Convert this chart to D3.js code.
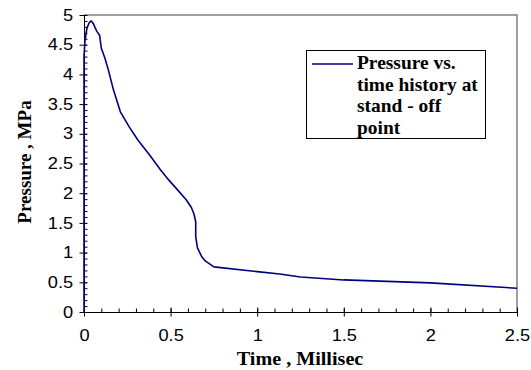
<!DOCTYPE html>
<html>
<head>
<meta charset="utf-8">
<script src="https://cdn.jsdelivr.net/npm/d3@7"></script>
<style>
  body { margin: 0; background: #fff; }
  svg { display: block; }
  .serif { font-family: "Liberation Serif", "Times New Roman", serif; font-weight: bold; }
</style>
</head>
<body>
<div id="container"></div>
<script>
// values
const timeMs = [0, 0, 0.005, 0.017, 0.03, 0.042, 0.055, 0.065, 0.075, 0.09, 0.1, 0.12, 0.14, 0.17, 0.21, 0.26, 0.31, 0.38, 0.44, 0.49, 0.53, 0.59, 0.62, 0.635, 0.645, 0.645, 0.655, 0.68, 0.70, 0.75, 1.0, 1.13, 1.25, 1.5, 2.0, 2.5];
const pressureMPa = [0, 4.3, 4.55, 4.78, 4.87, 4.9, 4.85, 4.78, 4.72, 4.66, 4.44, 4.28, 4.08, 3.74, 3.37, 3.12, 2.9, 2.64, 2.4, 2.22, 2.09, 1.89, 1.76, 1.65, 1.52, 1.27, 1.08, 0.93, 0.86, 0.76, 0.68, 0.64, 0.59, 0.54, 0.49, 0.4];
const xTicks = [0, 0.5, 1, 1.5, 2, 2.5];
const yTicks = [0, 0.5, 1, 1.5, 2, 2.5, 3, 3.5, 4, 4.5, 5];
const legendLines = ["Pressure vs.", "time history at", "stand - off", "point"];

const config = {
    width: 531,
    height: 370,
    left: 84,
    right: 517,
    top: 15,
    bottom: 312,
    stretch: 1.1, // the source picture is a little wider than tall
}

const svg = d3.select('#container')
    .append('svg')
    .attr('width', config.width)
    .attr('height', config.height)

const xScale = d3.scaleLinear()
    .domain([0, 2.5])
    .range([config.left, config.right])

const yScale = d3.scaleLinear()
    .domain([0, 5])
    .range([config.bottom, config.top])

// plot area frame (top and right in gray)
svg.append('path')
    .attr('d', `M${config.left},${config.top}H${config.right}V${config.bottom}`)
    .attr('fill', 'none')
    .attr('stroke', '#808080')
    .attr('stroke-width', 1.5)

// minor ticks, every 0.1
const xMinor = d3.range(0, 2.5001, 0.1)
const yMinor = d3.range(0, 5.0001, 0.1)

svg.append('g')
    .attr('class', 'x-axis-minor')
    .attr('transform', `translate(0,${config.bottom})`)
    .call(d3.axisTop(xScale).tickValues(xMinor).tickSize(3.5).tickFormat(''))
    .call(g => g.select('.domain').remove())

svg.append('g')
    .attr('class', 'y-axis-minor')
    .attr('transform', `translate(${config.left},0)`)
    .call(d3.axisRight(yScale).tickValues(yMinor).tickSize(3.5).tickFormat(''))
    .call(g => g.select('.domain').remove())

// major axes
const xAxis = svg.append('g')
    .attr('class', 'x-axis')
    .attr('transform', `translate(0,${config.bottom})`)
    .call(d3.axisBottom(xScale)
        .tickValues(xTicks)
        .tickSizeInner(4.5)
        .tickSizeOuter(0)
        .tickPadding(13)
        .tickFormat(d3.format('')))

xAxis.selectAll('.tick line').attr('y1', -4.5)

const yAxis = svg.append('g')
    .attr('class', 'y-axis')
    .attr('transform', `translate(${config.left},0)`)
    .call(d3.axisLeft(yScale)
        .tickValues(yTicks)
        .tickSizeInner(4.5)
        .tickSizeOuter(0)
        .tickPadding(5)
        .tickFormat(d3.format('')))

yAxis.selectAll('.tick line').attr('x1', 3)

svg.selectAll('.x-axis text, .y-axis text')
    .style('font-family', '"Liberation Sans", Arial, sans-serif')
    .style('font-size', '16px')
    .attr('fill', '#000')
    .attr('transform', `scale(${config.stretch + 0.04},1)`)

svg.selectAll('.x-axis .domain, .y-axis .domain').attr('stroke', '#000')

// the curve
const points = timeMs.map((t, i) => [t, pressureMPa[i]])
const line = d3.line()
    .x(d => xScale(d[0]))
    .y(d => yScale(d[1]))

svg.append('path')
    .datum(points)
    .attr('fill', 'none')
    .attr('stroke', '#000080')
    .attr('stroke-width', 1.6)
    .attr('stroke-linejoin', 'round')
    .attr('d', line)

// axis titles
svg.append('text')
    .attr('class', 'serif')
    .attr('text-anchor', 'middle')
    .attr('transform', `translate(300,365) scale(${config.stretch - 0.04},1)`)
    .text('Time , Millisec')
    .style('font-size', '19px')

svg.append('text')
    .attr('class', 'serif')
    .attr('text-anchor', 'middle')
    .attr('transform', 'translate(31,162) rotate(-90)')
    .text('Pressure , MPa')
    .style('font-size', '19px')

// legend
const legend = svg.append('g').attr('class', 'legend')

legend.append('rect')
    .attr('x', 306.5)
    .attr('y', 50.5)
    .attr('width', 179)
    .attr('height', 88)
    .attr('fill', '#fff')
    .attr('stroke', '#000')
    .attr('stroke-width', 1)

legend.append('line')
    .attr('x1', 312)
    .attr('x2', 353)
    .attr('y1', 64)
    .attr('y2', 64)
    .attr('stroke', '#000080')
    .attr('stroke-width', 1.6)

legend.append('g')
    .attr('transform', `translate(357,0) scale(${config.stretch - 0.02},1)`)
    .selectAll('text')
    .data(legendLines)
    .join('text')
    .attr('class', 'serif')
    .attr('x', 0)
    .attr('y', (_, i) => 69.5 + 21.5 * i)
    .text(d => d)
    .style('font-size', '18px')
</script>
</body>
</html>
